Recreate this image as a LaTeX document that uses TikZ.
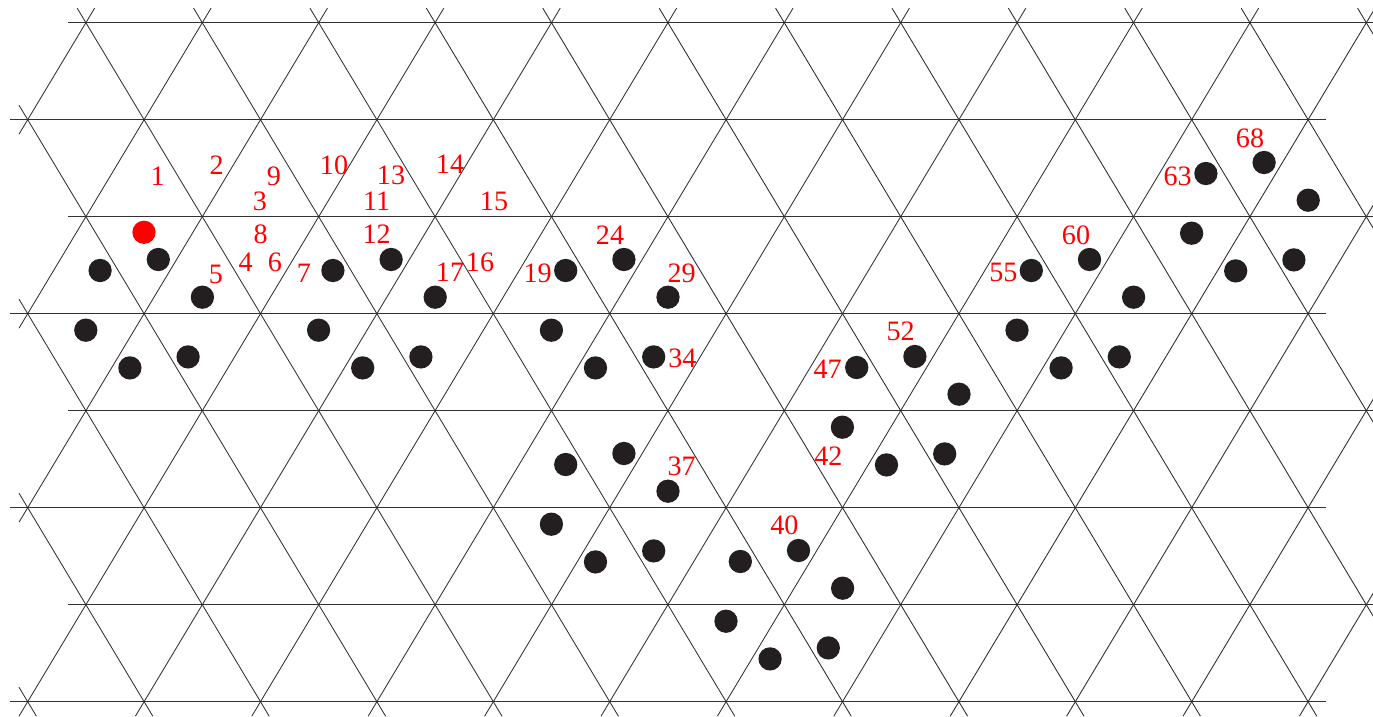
\documentclass[tikz,border=0pt]{standalone}
\usepackage{fontspec}
\setmainfont{Liberation Serif}
\usepackage{xcolor}
\definecolor{dotblack}{RGB}{35,31,32}
\definecolor{gridgray}{RGB}{50,50,50}
\tikzset{
    % Lattice styles
    grid line/.style={draw=gridgray, line width=0.5pt},
    % Site styles
    site/.style={circle, fill=dotblack, inner sep=0pt, minimum size=4.66mm},
    start site/.style={site, fill=red},
    % Label styles
    step label/.style={text=red, inner sep=0pt, font=\fontsize{16}{19}\selectfont},
}

\begin{document}
\begin{tikzpicture}[x=0.2mm, y=-0.2mm]
    \useasboundingbox (0,0) rectangle (1373,717);
    \clip (0,0) rectangle (1373,717);

    % horizontal rows
    \foreach \j in {0,...,7} {
        \pgfmathtruncatemacro\ma{mod(\j+1,2)}
        \draw[grid line] ({27.7+58.2*\ma-17.7}, {22.7+97*\j})
            -- ({27.7+58.2*(\ma+22)+17.7}, {22.7+97*\j});
    }
    % rising lines
    \foreach \lc in {1,3,...,29} {
        \pgfmathtruncatemacro\ja{max(0,\lc-23)}
        \pgfmathtruncatemacro\jb{min(7,\lc)}
        \draw[grid line] ({27.7+58.2*(\lc-\ja+0.15)}, {22.7+97*(\ja-0.15)})
            -- ({27.7+58.2*(\lc-\jb-0.15)}, {22.7+97*(\jb+0.15)});
    }
    % falling lines
    \foreach \ld in {-7,-5,...,23} {
        \pgfmathtruncatemacro\ja{max(0,0-(\ld))}
        \pgfmathtruncatemacro\jb{min(7,23-(\ld))}
        \draw[grid line] ({27.7+58.2*((\ld)+\ja-0.15)}, {22.7+97*(\ja-0.15)})
            -- ({27.7+58.2*((\ld)+\jb+0.15)}, {22.7+97*(\jb+0.15)});
    }

    % hexagonal groups of sites
    \foreach \g/\gx/\gy in {a/144.1/313.7, b/376.9/313.7, c/609.7/313.7,
                            d/609.7/507.7, e/784.3/604.7, f/900.7/410.7,
                            g/1075.3/313.7, h/1249.9/216.7} {
        \foreach \i/\ox/\oy in {1/-44/-43.2, 2/14.2/-54.2, 3/58.3/-16.5,
                                4/44/43.2, 5/-14.2/54.2, 6/-58.3/16.5}
            \node[site] (site-\g\i) at ({\gx+(\ox)}, {\gy+(\oy)}) {};
    }
    % starting site
    \node[start site] (start) at (144,232.3) {};

    % step numbers
    \foreach \n/\px/\py in {1/157.7/176, 2/216.7/165.5, 9/274/176, 3/260/201.7,
                            10/334/165, 13/391/175.7, 11/376.7/201.7, 14/450/164.5,
                            15/494/201.7, 8/260.7/234.3, 12/376.7/234.3,
                            4/245.7/262.7, 6/275/262.7, 5/216/274, 7/304/273.3,
                            17/450/272.5, 16/480/262, 19/537.7/273.3, 24/610/235,
                            29/681.7/273.3, 34/682.3/358.3, 47/827.7/369.3,
                            52/900.7/331.7, 55/1003.3/272.7, 60/1076/235,
                            63/1177.7/176, 68/1250/138.3, 37/681.7/466.7,
                            42/828.3/455.7, 40/784.3/525.7}
        \node[step label] (label-\n) at (\px,\py) {\n};
\end{tikzpicture}
\end{document}
